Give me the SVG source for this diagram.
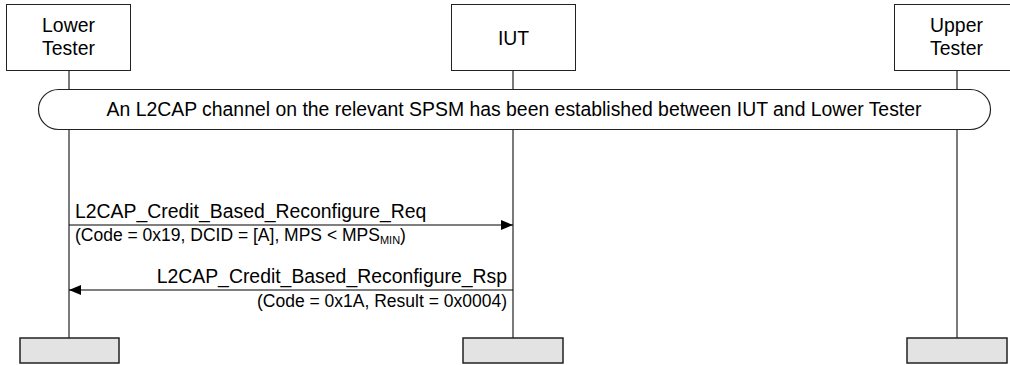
<svg xmlns="http://www.w3.org/2000/svg" width="1010" height="365" viewBox="0 0 1010 365">
<style>
text{font-family:"Liberation Sans",Arial,sans-serif;fill:#000}
.hd{fill:#fff;stroke:#222;stroke-width:1}
.ft{fill:#e3e3e3;stroke:#222;stroke-width:1.5}
.ll{stroke:#222;stroke-width:1.2;fill:none}
.msg{stroke:#000;stroke-width:1.2;fill:none}
.big{font-size:19.4px}
.small{font-size:17.5px}
</style>
<defs>
<marker id="ah" markerWidth="12" markerHeight="10" refX="12" refY="5" orient="auto" markerUnits="userSpaceOnUse">
<path d="M0,0 L12,5 L0,10 z" fill="#000"/>
</marker>
</defs>
<g id="lifelines">
<line class="ll" x1="69" y1="71" x2="69" y2="89"/>
<line class="ll" x1="69" y1="129" x2="69" y2="338"/>
<line class="ll" x1="513" y1="71" x2="513" y2="89"/>
<line class="ll" x1="513" y1="129" x2="513" y2="338"/>
<line class="ll" x1="957" y1="71" x2="957" y2="89"/>
<line class="ll" x1="957" y1="129" x2="957" y2="338"/>
</g>
<g id="lower-tester">
<rect class="hd" x="6.5" y="4.5" width="124" height="66"/>
<text class="big" x="68.5" y="32" text-anchor="middle">Lower</text>
<text class="big" x="68.5" y="55" text-anchor="middle">Tester</text>
</g>
<g id="iut">
<rect class="hd" x="451.5" y="4.5" width="124" height="66"/>
<text class="big" x="513.5" y="45" text-anchor="middle">IUT</text>
</g>
<g id="upper-tester">
<rect class="hd" x="894.5" y="4.5" width="124" height="66"/>
<text class="big" x="956.5" y="32" text-anchor="middle">Upper</text>
<text class="big" x="956.5" y="55" text-anchor="middle">Tester</text>
</g>
<g id="condition">
<rect x="38.5" y="89.5" width="952" height="40" rx="20" ry="20" fill="#fff" stroke="#222" stroke-width="1.2"/>
<text class="big" x="514" y="116" text-anchor="middle">An L2CAP channel on the relevant SPSM has been established between IUT and Lower Tester</text>
</g>
<g id="connectors">
<line class="msg" x1="69" y1="225" x2="513" y2="225" marker-end="url(#ah)"/>
<line class="msg" x1="513" y1="290" x2="69" y2="290" marker-end="url(#ah)"/>
</g>
<g id="msg-req">
<text class="big" x="75" y="218">L2CAP_Credit_Based_Reconfigure_Req</text>
<text class="small" x="75" y="241">(Code = 0x19, DCID = [A], MPS &lt; MPS<tspan font-size="11" dy="3">MIN</tspan><tspan dy="-3">)</tspan></text>
</g>
<g id="msg-rsp">
<text class="big" x="507" y="283" text-anchor="end">L2CAP_Credit_Based_Reconfigure_Rsp</text>
<text class="small" x="507" y="307" text-anchor="end">(Code = 0x1A, Result = 0x0004)</text>
</g>
<g id="lower-tester-end">
<rect class="ft" x="20" y="338" width="99" height="25"/>
</g>
<g id="iut-end">
<rect class="ft" x="463" y="338" width="100" height="25"/>
</g>
<g id="upper-tester-end">
<rect class="ft" x="907" y="338" width="100" height="25"/>
</g>
</svg>
